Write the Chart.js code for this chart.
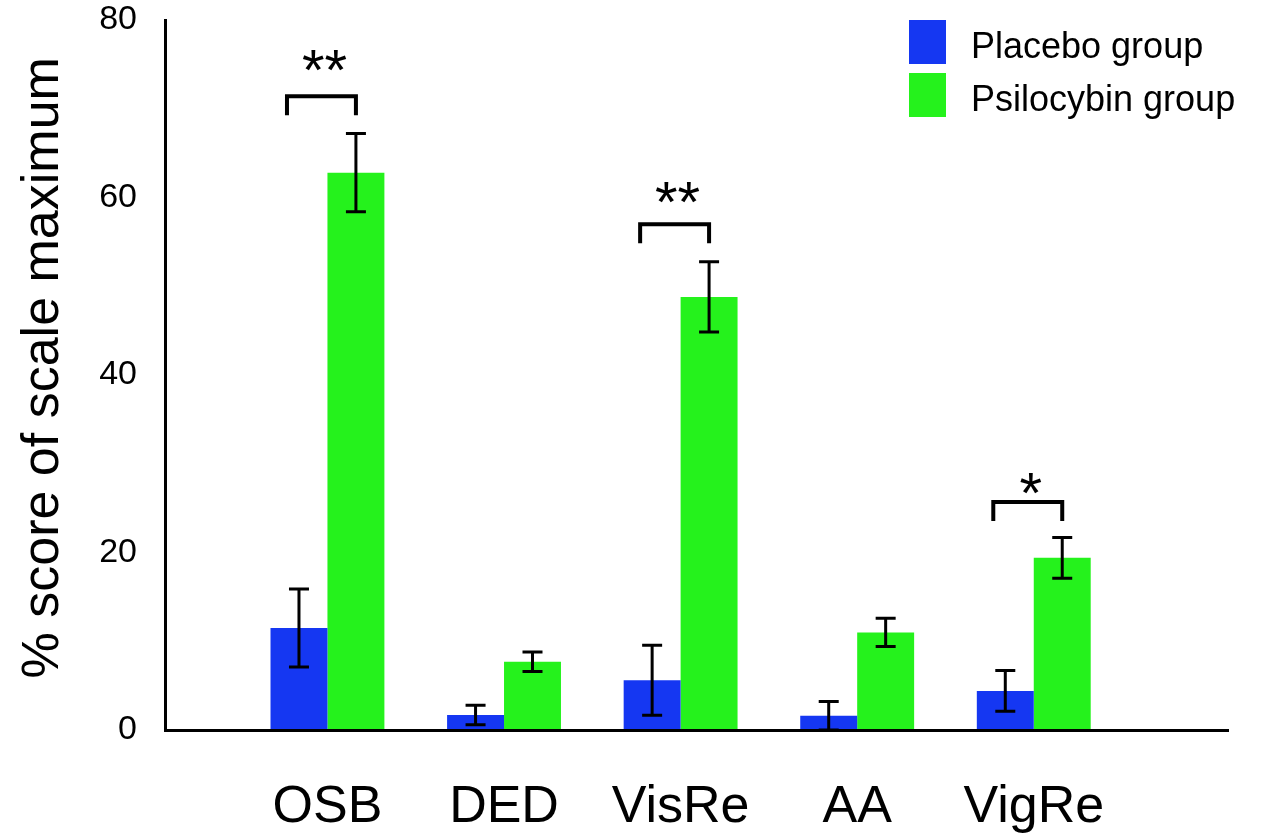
<!DOCTYPE html>
<html>
<head>
<meta charset="utf-8">
<title>% score of scale maximum</title>
<script src="https://cdn.jsdelivr.net/npm/chart.js@4.4.1/dist/chart.umd.min.js"></script>
<style>
  html, body { margin: 0; padding: 0; background: #ffffff; }
  #wrap { width: 1266px; height: 836px; position: relative; }
</style>
</head>
<body>
<div id="wrap"><canvas id="chart"></canvas></div>
<script>
// Subscale scores (mean and error) per group
const categories = ['OSB', 'DED', 'VisRe', 'AA', 'VigRe'];
const placeboMean = [11.5, 1.7, 5.6, 1.6, 4.4];
const placeboErr = [4.4, 1.1, 3.95, 1.6, 2.3];
const psilocybinMean = [62.8, 7.7, 48.8, 11.0, 19.4];
const psilocybinErr = [4.4, 1.1, 3.95, 1.6, 2.3];
const yTicks = [0, 20, 40, 60, 80];

// Significance markers: category index, bracket level, label level, label
const sigCategory = [0, 2, 4];
const sigLevel = [71.4, 57.0, 25.7];
const sigLabelLevel = [75.7, 60.8, 28.1];
const sigLabel = ['**', '**', '*'];

const FONT = "'Liberation Sans', Arial, Helvetica, sans-serif";
const BLUE = '#1537f2';
const GREEN = '#25f21c';

const errorsByDataset = [placeboErr, psilocybinErr];
const meansByDataset = [placeboMean, psilocybinMean];

const errorBarPlugin = {
  id: 'errorBars',
  afterDatasetsDraw(chart) {
    const ctx = chart.ctx;
    const y = chart.scales.y;
    ctx.save();
    ctx.strokeStyle = '#000';
    ctx.lineWidth = 3;
    chart.data.datasets.forEach((ds, di) => {
      const meta = chart.getDatasetMeta(di);
      meta.data.forEach((bar, i) => {
        const m = meansByDataset[di][i];
        const e = errorsByDataset[di][i];
        const x = bar.x;
        const yTop = y.getPixelForValue(m + e);
        const yBot = y.getPixelForValue(Math.max(0, m - e));
        const cap = 10;
        ctx.beginPath();
        ctx.moveTo(x, yTop); ctx.lineTo(x, yBot);
        ctx.moveTo(x - cap, yTop); ctx.lineTo(x + cap, yTop);
        ctx.moveTo(x - cap, yBot); ctx.lineTo(x + cap, yBot);
        ctx.stroke();
      });
    });
    ctx.restore();
  }
};

const significancePlugin = {
  id: 'significance',
  afterDatasetsDraw(chart) {
    const ctx = chart.ctx;
    const y = chart.scales.y;
    const m0 = chart.getDatasetMeta(0);
    const m1 = chart.getDatasetMeta(1);
    ctx.save();
    ctx.strokeStyle = '#000';
    ctx.fillStyle = '#000';
    ctx.lineWidth = 4;
    ctx.lineJoin = 'miter';
    sigCategory.forEach((c, k) => {
      const xl = m0.data[c].x - 12;
      const xr = m1.data[c].x;
      const yb = y.getPixelForValue(sigLevel[k]);
      const leg = 19;
      ctx.beginPath();
      ctx.moveTo(xl, yb + leg);
      ctx.lineTo(xl, yb);
      ctx.lineTo(xr, yb);
      ctx.lineTo(xr, yb + leg);
      ctx.stroke();
      ctx.font = '58px ' + FONT;
      ctx.textAlign = 'center';
      ctx.textBaseline = 'alphabetic';
      const yl = y.getPixelForValue(sigLabelLevel[k]);
      ctx.fillText(sigLabel[k], (xl + xr) / 2 + 3, yl + 32);
    });
    ctx.restore();
  }
};

const legendPlugin = {
  id: 'boxLegend',
  afterDraw(chart) {
    const ctx = chart.ctx;
    const area = chart.chartArea;
    const x0 = area.right - 319;
    ctx.save();
    ctx.font = '36px ' + FONT;
    ctx.textAlign = 'left';
    ctx.textBaseline = 'middle';
    chart.data.datasets.forEach((ds, i) => {
      const top = area.top + i * 53;
      ctx.fillStyle = ds.backgroundColor;
      ctx.fillRect(x0, top, 37, 44);
      ctx.fillStyle = '#000';
      ctx.fillText(ds.label, x0 + 62, top + 28);
    });
    ctx.restore();
  }
};

new Chart(document.getElementById('chart'), {
  type: 'bar',
  data: {
    datasets: [
      {
        label: 'Placebo group',
        data: placeboMean.map((v, i) => ({ x: i, y: v })),
        backgroundColor: BLUE,
        borderWidth: 0
      },
      {
        label: 'Psilocybin group',
        data: psilocybinMean.map((v, i) => ({ x: i, y: v })),
        backgroundColor: GREEN,
        borderWidth: 0
      }
    ]
  },
  options: {
    responsive: true,
    maintainAspectRatio: false,
    animation: false,
    categoryPercentage: 0.645,
    barPercentage: 1.0,
    layout: { padding: { top: 20, right: 38, left: 0, bottom: 0 } },
    plugins: {
      legend: { display: false },
      tooltip: { enabled: false }
    },
    scales: {
      x: {
        type: 'linear',
        offset: false,
        min: -0.92,
        max: 5.1,
        grid: { display: false, drawTicks: false, offset: false },
        border: { display: true, color: '#000', width: 3, z: 1 },
        afterBuildTicks: (scale) => { scale.ticks = categories.map((_, i) => ({ value: i })); },
        afterFit: (scale) => { scale.height = 106; scale.paddingLeft = 0; scale.paddingRight = 0; },
        ticks: {
          autoSkip: false,
          maxRotation: 0,
          padding: 46,
          color: '#000',
          font: { family: FONT, size: 52 },
          callback: (v) => categories[v]
        }
      },
      y: {
        min: 0,
        max: 80,
        grid: { display: false, drawTicks: false },
        border: { display: true, color: '#000', width: 3, z: 1 },
        afterBuildTicks: (scale) => { scale.ticks = yTicks.map(v => ({ value: v })); },
        afterFit: (scale) => { scale.width = 165; scale.paddingTop = 0; scale.paddingBottom = 0; },
        ticks: {
          padding: 28,
          color: '#000',
          font: { family: FONT, size: 34 }
        },
        title: {
          display: true,
          text: ' % score of scale maximum',
          color: '#000',
          padding: { top: 12, bottom: 0 },
          font: { family: FONT, size: 52 }
        }
      }
    }
  },
  plugins: [errorBarPlugin, significancePlugin, legendPlugin]
});
</script>
</body>
</html>
